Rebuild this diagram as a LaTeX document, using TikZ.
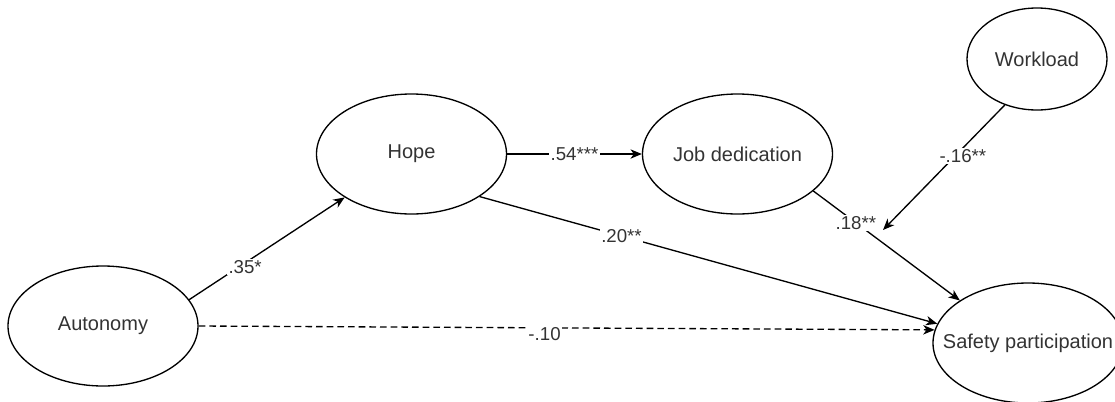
\documentclass[tikz,border=0pt]{standalone}
\usepackage{fontspec}
\setmainfont{Liberation Sans}
\usetikzlibrary{arrows.meta,shapes.geometric}
\definecolor{ink}{HTML}{333333}
\begin{document}
\begin{tikzpicture}[x=0.75pt,y=-0.75pt,
  latent/.style={draw=black, line width=1pt, ellipse, inner sep=0pt,
    minimum width=142.5pt, minimum height=90pt, text=ink,
    font=\fontsize{15}{18}\selectfont},
  effect/.style={draw=black, line width=1pt,
    -{Stealth[length=8.5pt,width=7pt,inset=2.5pt]}},
  coef/.style={fill=white, inner sep=1pt, text=ink,
    font=\fontsize{14}{16}\selectfont},
]
\useasboundingbox (0,0) rectangle (1115,401);

% latent constructs
\node[latent] (aut)  at (103,326)    {Autonomy};
\node[latent] (hope) at (411.5,154)  {Hope};
\node[latent] (job)  at (737.5,154)  {Job dedication};
\node[latent] (saf)  at (1028,343)   {\makebox[0pt]{Safety participation}};
\node[latent, minimum width=105pt, minimum height=76.5pt] (wl) at (1037,59) {Workload};
\coordinate (mod) at (883,230);

% structural paths
\draw[effect] (aut.17) -- node[coef, pos=0.36, yshift=-3pt] {.35*} (hope.213);
\draw[effect] (hope.east) -- node[coef, pos=0.5] {.54***} (job.west);
\draw[effect] (hope.-32) -- node[coef, pos=0.31] {.20**} (saf.168);
\draw[effect] (job.-26) -- node[coef, pos=0.29] {.18**} (saf.148);
\draw[effect] (wl.235) -- node[coef, pos=0.41, xshift=6pt] {-.16**} (mod);
\draw[effect, dash pattern=on 5pt off 3pt] (aut.east) -- node[coef, pos=0.47, yshift=-4.5pt] {-.10} (saf.172);
\end{tikzpicture}
\end{document}
